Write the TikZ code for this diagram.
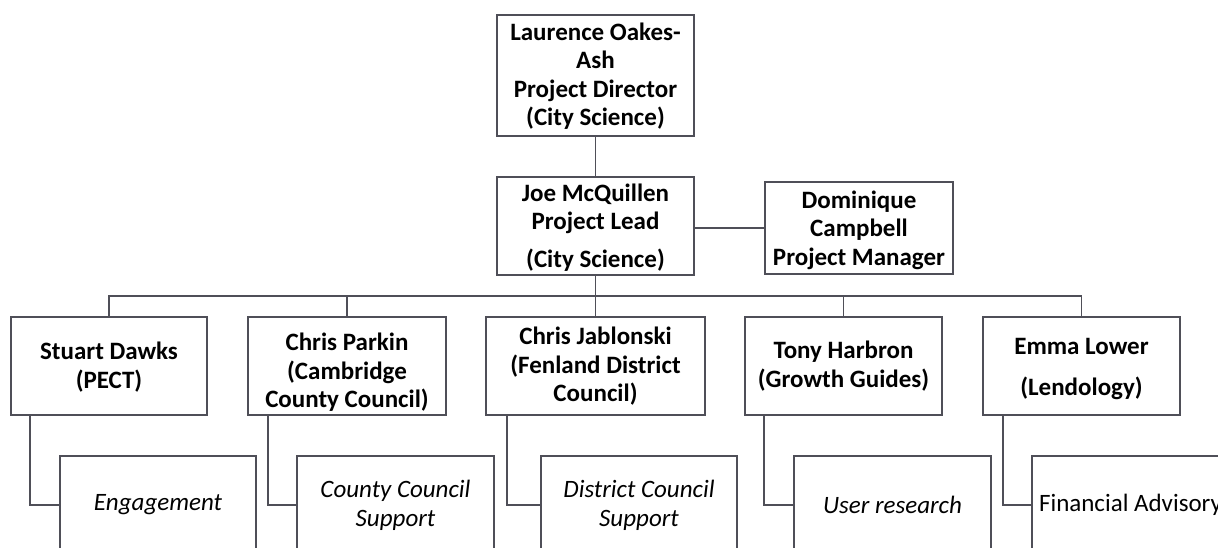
\documentclass[tikz,border=0pt]{standalone}
\usepackage{fontspec}
\setmainfont{Carlito}
\definecolor{linegray}{HTML}{4F4F58}
% centred block of lines, lowered inside its box without changing the box size
\newcommand\droppedlines[2]{\raisebox{-#1}[\height][\depth]{\begin{tabular}{@{}c@{}}#2\end{tabular}}}
\begin{document}
\begin{tikzpicture}[x=1pt,y=-1pt]
\tikzset{
  boxbase/.style={draw=linegray, line width=1.6pt, fill=white, align=center, inner sep=0pt},
  lead/.style={boxbase, font=\bfseries\fontsize{25}{28.5}\selectfont, minimum width=197pt, minimum height=98pt},
  task/.style={boxbase, font=\itshape\fontsize{25}{29}\selectfont, minimum width=197pt, minimum height=98pt},
  link/.style={draw=linegray, line width=1.6pt},
}
\useasboundingbox (0,0) rectangle (1218,548);
\clip (0,0) rectangle (1218,548);

% management chain
\node[lead, minimum height=121pt] (director) at (595.5,75.5) {\droppedlines{2pt}{Laurence Oakes-\\Ash\\Project Director\\(City Science)}};
\node[lead] (lead) at (595.5,226) {\droppedlines{2.5pt}{Joe McQuillen\\Project Lead\\[9pt](City Science)}};
\node[lead, minimum width=188pt, minimum height=92pt] (manager) at (859,228) {\droppedlines{3pt}{Dominique\\Campbell\\Project Manager}};

% partner leads
\node[lead, minimum width=196pt] (stuart) at (109,366) {\droppedlines{2.5pt}{Stuart Dawks\\(PECT)}};
\node[lead, minimum width=198pt] (parkin) at (347,366) {\droppedlines{7.5pt}{Chris Parkin\\(Cambridge\\County Council)}};
\node[lead, minimum width=219pt] (jablonski) at (595.5,366) {\droppedlines{1.5pt}{Chris Jablonski\\(Fenland District\\Council)}};
\node[lead] (tony) at (843.5,366) {\droppedlines{1.5pt}{Tony Harbron\\(Growth Guides)}};
\node[lead] (emma) at (1081.5,366) {\droppedlines{3.5pt}{Emma Lower\\[12pt](Lendology)}};

% work areas
\node[task, minimum width=196pt] (engage) at (158,505) {Engagement};
\node[task] (county) at (395.5,505) {County Council\\Support};
\node[task, minimum width=196pt] (district) at (639,505) {District Council\\Support};
\node[task] (user) at (892.5,505) {User research};
\node[task, font=\fontsize{25}{29}\selectfont] (finance) at (1130.5,505) {Financial Advisory};

% connectors
\coordinate (bus) at (0,296);
\draw[link] (director) -- (lead);
\draw[link] (lead.east |- manager.west) -- (manager.west);
\draw[link] (lead.south) -- (jablonski.north);
\draw[link] (stuart.north) -- (stuart.north |- bus) -- (emma.north |- bus) -- (emma.north);
\draw[link] (parkin.north |- bus) -- (parkin.north);
\draw[link] (tony.north |- bus) -- (tony.north);

\draw[link] ([xshift=20pt]stuart.south west) |- (engage.west);
\draw[link] ([xshift=21pt]parkin.south west) |- (county.west);
\draw[link] ([xshift=22pt]jablonski.south west) |- (district.west);
\draw[link] ([xshift=20pt]tony.south west) |- (user.west);
\draw[link] ([xshift=21pt]emma.south west) |- (finance.west);
\end{tikzpicture}
\end{document}
